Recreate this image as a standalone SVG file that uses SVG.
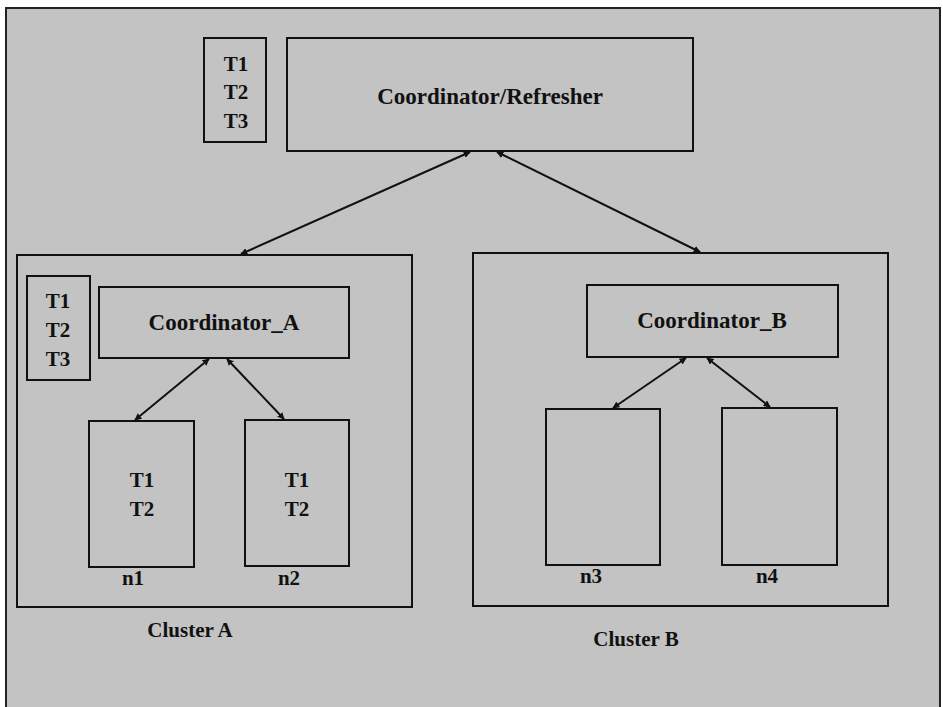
<svg xmlns="http://www.w3.org/2000/svg" width="943" height="707" viewBox="0 0 943 707">
<style>
.box{fill:none;stroke:#111;stroke-width:2}
text{font-family:"Liberation Serif","Times New Roman",serif;font-weight:bold;fill:#111;text-anchor:middle}
.tl{font-size:21px}
.co{font-size:23px}
.lb{font-size:21px}
.con{stroke:#111;stroke-width:2;fill:none;marker-start:url(#ah);marker-end:url(#ah)}
</style>
<defs>
<marker id="ah" viewBox="0 0 10 10" refX="9" refY="5" markerWidth="7" markerHeight="7" markerUnits="userSpaceOnUse" orient="auto-start-reverse">
<path d="M0,0 L10,5 L0,10 z" fill="#111"/>
</marker>
</defs>
<rect x="0" y="0" width="943" height="707" fill="#ffffff"/>
<rect x="6" y="8" width="934" height="705" fill="#c3c3c3" stroke="#222" stroke-width="2"/>

<g id="tbox-top">
<rect class="box" x="204" y="38" width="62" height="104"/>
<text class="tl" x="236" y="71">T1</text>
<text class="tl" x="236" y="99">T2</text>
<text class="tl" x="236" y="128">T3</text>
</g>
<g id="refresher">
<rect class="box" x="287" y="38" width="406" height="113"/>
<text class="co" x="490" y="104">Coordinator/Refresher</text>
</g>

<g id="clusterA">
<rect class="box" x="17" y="255" width="395" height="352"/>
<text class="lb" x="190" y="637">Cluster A</text>
</g>
<g id="tbox-A">
<rect class="box" x="27" y="276" width="63" height="104"/>
<text class="tl" x="58" y="308">T1</text>
<text class="tl" x="58" y="337">T2</text>
<text class="tl" x="58" y="366">T3</text>
</g>
<g id="coordA">
<rect class="box" x="99" y="287" width="250" height="71"/>
<text class="co" x="224" y="330">Coordinator_A</text>
</g>
<g id="n1">
<rect class="box" x="89" y="421" width="105" height="146"/>
<text class="tl" x="142" y="487">T1</text>
<text class="tl" x="142" y="516">T2</text>
<text class="lb" x="133" y="585">n1</text>
</g>
<g id="n2">
<rect class="box" x="245" y="420" width="104" height="146"/>
<text class="tl" x="297" y="487">T1</text>
<text class="tl" x="297" y="516">T2</text>
<text class="lb" x="289" y="585">n2</text>
</g>

<g id="clusterB">
<rect class="box" x="473" y="253" width="415" height="353"/>
<text class="lb" x="636" y="646">Cluster B</text>
</g>
<g id="coordB">
<rect class="box" x="587" y="285" width="251" height="72"/>
<text class="co" x="712" y="328">Coordinator_B</text>
</g>
<g id="n3">
<rect class="box" x="546" y="409" width="114" height="156"/>
<text class="lb" x="591" y="583">n3</text>
</g>
<g id="n4">
<rect class="box" x="722" y="408" width="115" height="157"/>
<text class="lb" x="767" y="583">n4</text>
</g>

<g id="connectors">
<line class="con" x1="470" y1="152" x2="241" y2="254"/>
<line class="con" x1="497" y1="152" x2="700" y2="252"/>
<line class="con" x1="209" y1="359" x2="135" y2="420"/>
<line class="con" x1="227" y1="359" x2="284" y2="419"/>
<line class="con" x1="686" y1="358" x2="613" y2="408"/>
<line class="con" x1="707" y1="358" x2="770" y2="407"/>
</g>
</svg>
